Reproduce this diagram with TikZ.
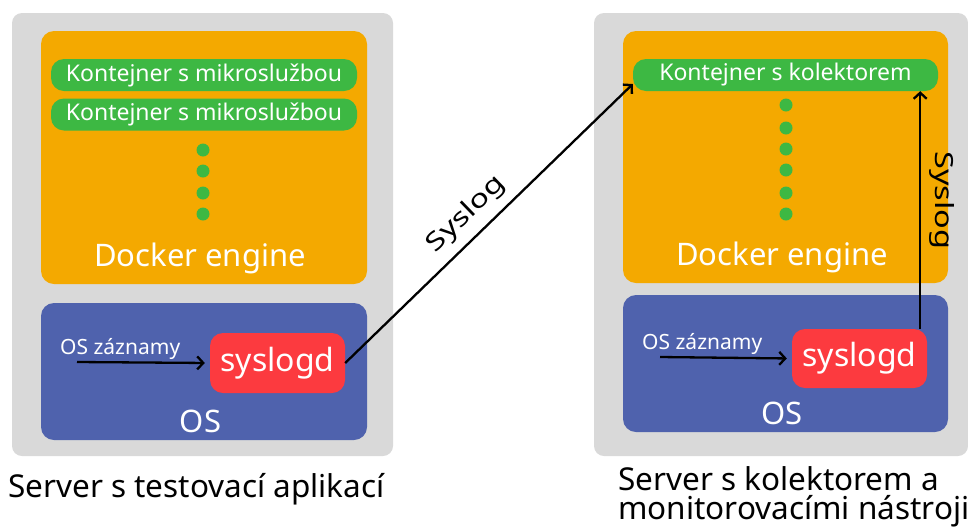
\documentclass[tikz,border=0pt]{standalone}
\usepackage{fontspec}
\setmainfont{Noto Sans}
\usetikzlibrary{arrows.meta}
\definecolor{srvgray}{HTML}{D9D9D9}
\definecolor{dockor}{HTML}{F4A900}
\definecolor{osblue}{HTML}{4F62AD}
\definecolor{contgreen}{HTML}{3DB843}
\definecolor{sysred}{HTML}{FC3A3F}
\tikzset{
  srv/.style={fill=srvgray, rounded corners=10pt, inner sep=0pt},
  dock/.style={fill=dockor, rounded corners=13pt, inner sep=0pt},
  osbox/.style={fill=osblue, rounded corners=13pt, inner sep=0pt},
  pill/.style={fill=contgreen, rounded corners=13pt, inner sep=0pt, text=white, font=\fontsize{23}{27}\selectfont},
  sysd/.style={fill=sysred, rounded corners=13pt, inner sep=0pt, text=white, font=\fontsize{32}{38}\selectfont},
  dot/.style={circle, fill=contgreen, minimum size=13pt, inner sep=0pt},
  bigw/.style={text=white, inner sep=0pt, font=\fontsize{31}{37}\selectfont},
  osw/.style={text=white, inner sep=0pt, font=\fontsize{31}{37}\selectfont},
  smallw/.style={text=white, inner sep=0pt, font=\fontsize{21}{25}\selectfont},
  lbl/.style={inner sep=0pt, font=\fontsize{25}{30}\selectfont},
  caption/.style={inner sep=0pt, font=\fontsize{31.5}{30}\selectfont},
  conn/.style={line width=2.3pt, -{Straight Barb[length=6pt,width=13pt,line width=2.3pt]}},
}
\newcommand{\capw}[1]{\scalebox{1.0}[1]{#1}}
\newcommand{\lblw}[1]{\scalebox{1.3}[1]{#1}}
\begin{document}
\begin{tikzpicture}[x=1pt,y=-1pt]
\useasboundingbox (0,0) rectangle (968,531);
% ---- left server ----
\node[srv, minimum width=381pt, minimum height=443pt] (srvA) at (202.5,234.5) {};
\node[dock, minimum width=326pt, minimum height=253pt] (dockA) at (204,157.5) {};
\node[osbox, minimum width=326pt, minimum height=137pt] (osA) at (204,371.5) {};
\node[pill, minimum width=306pt, minimum height=32pt] (c1) at (204,75) {Kontejner s mikroslužbou};
\node[pill, minimum width=306pt, minimum height=32pt] (c2) at (204,114.5) {Kontejner s mikroslužbou};
\foreach \y [count=\i] in {150,171,193,214} \node[dot] (da\i) at (203,\y) {};
\node[bigw, anchor=base] (dtA) at (200,266) {Docker engine};
\node[sysd, minimum width=135pt, minimum height=60pt] (sysA) at (277.5,363) {syslogd};
\node[osw, anchor=base] (otA) at (200.5,432) {OS};
\node[smallw, anchor=base west] (ozA) at (60,354) {OS záznamy};
\coordinate (inA) at (77,362);
% ---- right server ----
\node[srv, minimum width=374pt, minimum height=443pt] (srvR) at (781,234.5) {};
\node[dock, minimum width=325pt, minimum height=252pt] (dockR) at (785.5,157) {};
\node[osbox, minimum width=325pt, minimum height=137pt] (osR) at (785.5,363.5) {};
\node[pill, minimum width=305pt, minimum height=32pt] (kolR) at (785.5,75) {Kontejner s kolektorem};
\foreach \y [count=\i] in {105,128,149,170,193,214} \node[dot] (dr\i) at (786,\y) {};
\node[bigw, anchor=base] (dtR) at (782,265) {Docker engine};
\node[sysd, minimum width=135pt, minimum height=59pt] (sysR) at (859.5,358.5) {syslogd};
\node[osw, anchor=base] (otR) at (782,424) {OS};
\node[smallw, anchor=base west] (ozR) at (642,349) {OS záznamy};
\coordinate (inR) at (660,357);
% ---- connectors ----
\draw[conn, shorten >=5pt] (inA) -- (sysA.west);
\draw[conn, shorten >=5pt] (inR) -- (sysR.west);
\draw[conn] (sysA.east) -- node[lbl, sloped, above=9pt, pos=0.475] {\lblw{Syslog}} ([yshift=-9pt]kolR.west);
\draw[conn] ([xshift=-7pt]sysR.north east) -- node[lbl, pos=0.54, xshift=22pt, rotate=-90] {\lblw{Syslog}} ([xshift=-7pt]sysR.north east |- kolR.south);
% ---- captions ----
\node[caption, anchor=base west] (capA) at (8,497) {\capw{Server s testovací aplikací}};
\node[caption, anchor=base west] (capR1) at (618,490) {\capw{Server s kolektorem a}};
\node[caption, anchor=base west] (capR2) at (618,519) {\capw{monitorovacími nástroji}};
\end{tikzpicture}
\end{document}
